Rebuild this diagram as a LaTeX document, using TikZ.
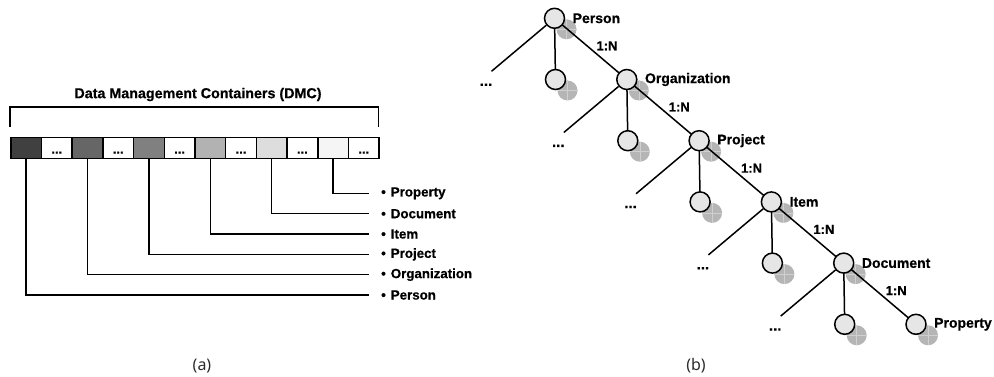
\documentclass[tikz,border=0pt]{standalone}
\usepackage{fontspec}
\setmainfont{Liberation Sans}[BoldFeatures={FakeBold=0.6}]
\newfontfamily\capfont{Noto Sans}
\definecolor{ga}{HTML}{404040}
\definecolor{gb}{HTML}{666666}
\definecolor{gc}{HTML}{808080}
\definecolor{gd}{HTML}{B2B2B2}
\definecolor{ge}{HTML}{DDDDDD}
\definecolor{gf}{HTML}{F5F5F5}
\definecolor{cfill}{HTML}{E6E6E6}
\definecolor{sfill}{HTML}{B5B5B5}
\definecolor{scross}{HTML}{D0D0D0}
\definecolor{captxt}{HTML}{2A2A2A}
\pgfdeclarelayer{shadows}
\pgfdeclarelayer{edges}
\pgfsetlayers{shadows,edges,main}
\begin{document}
\begin{tikzpicture}[x=1pt,y=-1pt,
  ln/.style={line width=1.5pt, black},
  cell/.style={draw, line width=1.5pt, minimum width=30.7pt, minimum height=20.6pt, inner sep=0pt, anchor=north west},
  dotcell/.style={cell, fill=white, font=\fontsize{13}{13}\selectfont\bfseries, text height=11pt, text depth=0pt},
  lbl/.style={anchor=west, inner xsep=12pt, inner ysep=0pt, font=\fontsize{13.3}{15}\selectfont\bfseries},
  ttlstyle/.style={font=\fontsize{14.3}{17}\selectfont\bfseries, inner sep=0pt},
  knot/.style={circle, draw, line width=1.5pt, fill=cfill, minimum size=20pt, inner sep=0pt},
  klbl/.style={anchor=west, inner sep=0pt, font=\fontsize{14}{16}\selectfont\bfseries},
  rel/.style={inner sep=0pt, font=\fontsize{13}{15}\selectfont\bfseries},
  moredots/.style={inner sep=0pt, font=\fontsize{15}{17}\selectfont\bfseries, text height=9pt, text depth=0pt},
  captext/.style={inner sep=0pt, font=\capfont\fontsize{16}{19}\selectfont, text=captxt}
]
\useasboundingbox (0,0) rectangle (994,377);

% ---------- (a) ----------
\node[ttlstyle] (ttl) at (198,94.5) {Data Management Containers (DMC)};
\draw[ln] (10,127) -- (10,107) -- (378.4,107) -- (378.4,127);

\foreach \i/\c in {0/ga,2/gb,4/gc,6/gd,8/ge,10/gf}
  \node[cell, fill=\c] (b\i) at ({10+30.7*\i},137) {};
\foreach \i in {1,3,5,7,9,11}
  \node[dotcell] (b\i) at ({10+30.7*\i},137) {...};

\node[lbl] (lProp) at (369,193.3) {\textbullet\hspace{5pt}Property};
\node[lbl] (lDoc)  at (369,213.7) {\textbullet\hspace{5pt}Document};
\node[lbl] (lItem) at (369,234.0) {\textbullet\hspace{5pt}Item};
\node[lbl] (lProj) at (369,254.4) {\textbullet\hspace{5pt}Project};
\node[lbl] (lOrg)  at (369,274.7) {\textbullet\hspace{5pt}Organization};
\node[lbl] (lPers) at (369,295.0) {\textbullet\hspace{5pt}Person};

\draw[ln] (b10.south) |- (lProp.west);
\draw[ln] (b8.south) |- (lDoc.west);
\draw[ln] (b6.south) |- (lItem.west);
\draw[ln] (b4.south) |- (lProj.west);
\draw[ln] (b2.south) |- (lOrg.west);
\draw[ln] (b0.south) |- (lPers.west);

\node[captext] (capa) at (202,366) {(a)};

% ---------- (b) ----------
\foreach \k/\t in {0/Person,1/Organization,2/Project,3/Item,4/Document,5/Property}{
  \node[knot] (C\k) at ({554.5+72.3*\k},{18.3+61.2*\k}) {};
  \node[klbl] (T\k) at ({554.5+72.3*\k+18},{18.3+61.2*\k}) {\t};
}
\foreach \k in {0,...,4}{
  \node[knot] (M\k) at ({555.5+72.3*\k},{79.5+61.2*\k}) {};
  \coordinate (L\k) at ({491.5+72.3*\k},{71.3+61.2*\k});
  \node[moredots] (D\k) at ({486+72.3*\k},{81.3+61.2*\k}) {...};
  \node[rel] (R\k) at ({607+72.3*\k},{45.8+61.2*\k}) {1:N};
}

\begin{pgfonlayer}{edges}
\foreach \k [evaluate=\k as \n using int(\k+1)] in {0,...,4}{
  \draw[ln] (C\k.center) -- (C\n.center);
  \draw[ln] (C\k.center) -- (M\k.center);
  \draw[ln] (C\k) -- (L\k);
}
\end{pgfonlayer}

\begin{pgfonlayer}{shadows}
\foreach \n in {C0,C1,C2,C3,C4,C5,M0,M1,M2,M3,M4}{
  \fill[sfill] ([shift={(12,11)}]\n.center) circle (10);
  \draw[scross, line width=0.6pt] ([shift={(2,11)}]\n.center) -- ([shift={(22,11)}]\n.center);
  \draw[scross, line width=0.6pt] ([shift={(12,1)}]\n.center) -- ([shift={(12,21)}]\n.center);
}
\end{pgfonlayer}

\node[captext] (capb) at (696,366) {(b)};
\end{tikzpicture}
\end{document}
